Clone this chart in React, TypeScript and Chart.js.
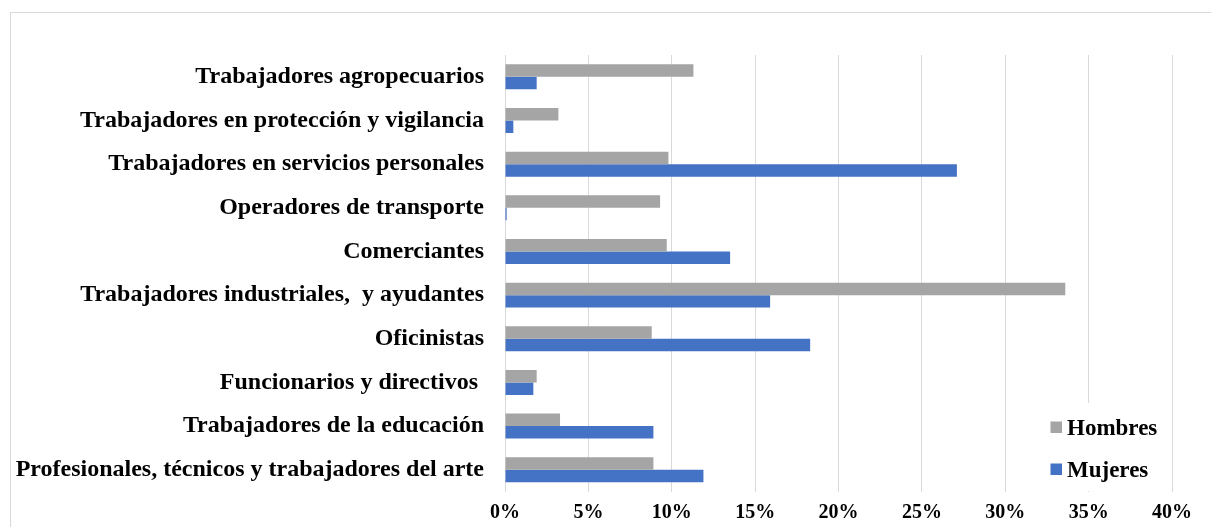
import React, { useEffect, useRef } from "react";
import { Chart, registerables } from "chart.js";

Chart.register(...registerables);

const categories = [
  "Trabajadores agropecuarios",
  "Trabajadores en protección y vigilancia",
  "Trabajadores en servicios personales",
  "Operadores de transporte",
  "Comerciantes",
  "Trabajadores industriales,  y ayudantes",
  "Oficinistas",
  "Funcionarios y directivos ",
  "Trabajadores de la educación",
  "Profesionales, técnicos y trabajadores del arte",
];

const hombres = [11.3, 3.2, 9.8, 9.3, 9.7, 33.6, 8.8, 1.9, 3.3, 8.9];
const mujeres = [1.9, 0.5, 27.1, 0.1, 13.5, 15.9, 18.3, 1.7, 8.9, 11.9];

const seriesNames = ["Hombres", "Mujeres"];
const seriesColors = ["#A5A5A5", "#4472C4"];

const xMin = 0;
const xMax = 40;
const xStep = 5;

const FONT = "'Liberation Serif', 'Times New Roman', serif";

const legendPlugin = {
  id: "insideLegend",
  afterDraw(chart: any) {
    const ctx = chart.ctx;
    ctx.save();
    ctx.fillStyle = "#ffffff";
    ctx.fillRect(1010, 403, 158, 88);
    ctx.font = `bold 23px ${FONT}`;
    ctx.textBaseline = "alphabetic";
    ctx.textAlign = "left";
    const rows = [
      { sq: 421.5, base: 435 },
      { sq: 463.5, base: 476.5 },
    ];
    seriesNames.forEach((name, i) => {
      ctx.fillStyle = seriesColors[i];
      ctx.fillRect(1050.5, rows[i].sq, 11.5, 11.5);
      ctx.fillStyle = "#000000";
      ctx.fillText(name, 1067, rows[i].base);
    });
    ctx.restore();
  },
};

export default function App() {
  const ref = useRef<HTMLCanvasElement | null>(null);

  useEffect(() => {
    if (!ref.current) return;
    const chart = new Chart(ref.current, {
      type: "bar",
      data: {
        labels: categories,
        datasets: [
          {
            label: seriesNames[0],
            data: hombres,
            backgroundColor: seriesColors[0],
            barPercentage: 1,
            categoryPercentage: 0.572,
          },
          {
            label: seriesNames[1],
            data: mujeres,
            backgroundColor: seriesColors[1],
            barPercentage: 1,
            categoryPercentage: 0.572,
          },
        ],
      },
      options: {
        indexAxis: "y",
        responsive: false,
        animation: false,
        layout: { padding: { left: 0, right: 39, top: 55, bottom: 0 } },
        plugins: {
          legend: { display: false },
          tooltip: { enabled: false },
        },
        scales: {
          x: {
            min: xMin,
            max: xMax,
            grid: { color: "#d9d9d9", lineWidth: 1, drawTicks: false },
            border: { display: false },
            ticks: {
              stepSize: xStep,
              padding: 9,
              color: "#000000",
              font: { family: FONT, size: 20, weight: "bold" },
              callback: (v: any) => `${v}%`,
            },
            afterFit: (scale: any) => {
              scale.height = 35;
            },
          },
          y: {
            grid: { display: false, drawTicks: false },
            border: { display: false },
            ticks: {
              padding: 21,
              color: "#000000",
              font: { family: FONT, size: 24, weight: "bold" },
            },
            afterFit: (scale: any) => {
              scale.width = 505;
            },
          },
        },
      },
      plugins: [legendPlugin],
    });
    return () => chart.destroy();
  }, []);

  return (
    <div style={{ position: "absolute", left: 0, top: 0, width: 1211, height: 527, background: "#ffffff", overflow: "hidden" }}>
      <div
        style={{
          position: "absolute",
          left: 10,
          top: 12,
          width: 1300,
          height: 600,
          borderLeft: "1px solid #d9d9d9",
          borderTop: "1px solid #d9d9d9",
        }}
      />
      <canvas ref={ref} width={1211} height={527} style={{ position: "absolute", left: 0, top: 0, display: "block" }} />
    </div>
  );
}
